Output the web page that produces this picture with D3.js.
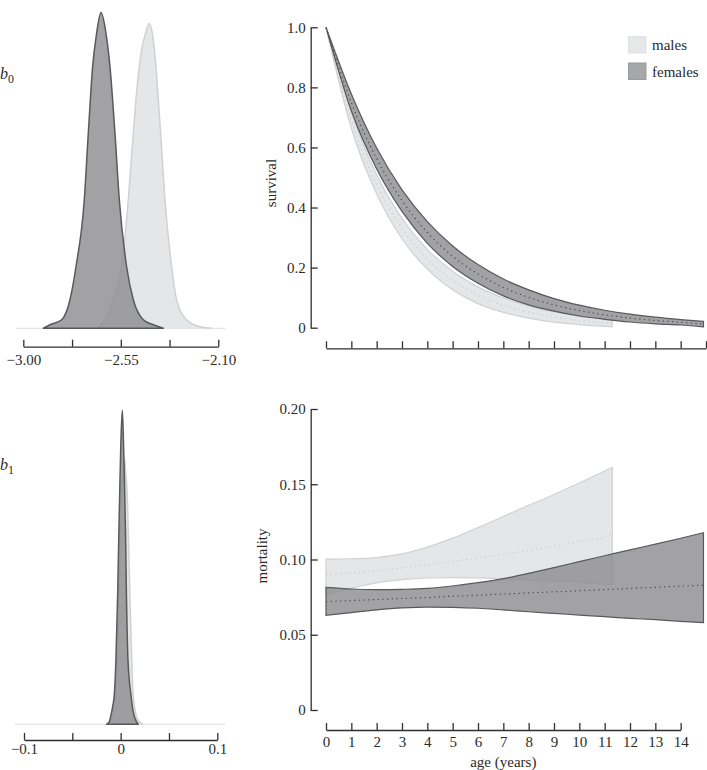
<!DOCTYPE html>
<html><head><meta charset="utf-8">
<script src="https://cdn.jsdelivr.net/npm/d3@7"></script>
<style>
body{margin:0;background:#fff}
svg{display:block}
text{font-family:"Liberation Serif","DejaVu Serif",serif;fill:#2b2b2b}
</style>
</head><body>
<svg id="c" width="707" height="770"></svg>
<script>
// ---------- b0 posterior densities ----------
const b0FemaleX = [-2.9077,-2.8769,-2.8231,-2.7846,-2.7569,-2.7185,-2.7000,-2.6800,-2.6615,-2.6415,-2.6185,-2.6000,-2.5769,-2.5569,-2.5231,-2.4923,-2.4462,-2.4000,-2.3538];
const b0FemaleDensity = [0,0.07,0.17,0.57,1.23,2.57,3.90,5.23,5.90,6.31,5.90,5.23,3.90,2.57,1.23,0.57,0.17,0.07,0];
const b0MaleX = [-2.6615,-2.6231,-2.5846,-2.5462,-2.5154,-2.4923,-2.4800,-2.4646,-2.4538,-2.4354,-2.4200,-2.4046,-2.3877,-2.3769,-2.3662,-2.3462,-2.3154,-2.2923,-2.2462,-2.1846,-2.1308];
const b0MaleDensity = [0,0.17,0.57,1.23,2.57,3.90,4.57,5.23,5.57,5.90,6.09,5.90,5.23,4.57,3.90,2.57,1.23,0.57,0.17,0.03,0];
const b0Ticks = [-3.00,-2.775,-2.55,-2.325,-2.10];
const b0TickLabels = ["−3.00","","−2.55","","−2.10"];

// ---------- b1 posterior densities ----------
const b1FemaleX = [-0.0145,-0.0121,-0.0100,-0.0080,-0.0066,-0.0049,-0.0031,-0.0018,-0.0007,0.0003,0.0017,0.0029,0.0039,0.0050,0.0060,0.0076,0.0107,0.0127,0.0148,0.0182];
const b1FemaleDensity = [0,0.6,2.9,6.1,9.3,20.4,41.1,61.8,77.7,90.4,100,90.4,77.7,61.8,41.1,20.4,9.3,4.5,1.9,0];
const b1MaleX = [-0.0152,-0.0100,-0.0075,-0.0052,-0.0033,-0.0018,-0.0004,0.0010,0.0029,0.0039,0.0050,0.0068,0.0083,0.0096,0.0113,0.0130,0.0153,0.0179,0.0231];
const b1MaleDensity = [0,1.3,3.8,9.2,22.3,41.1,57.3,72.9,81.2,84.7,81.2,72.9,57.3,41.1,22.3,9.2,3.8,1.3,0];
const b1Ticks = [-0.1,-0.05,0,0.05,0.1];
const b1TickLabels = ["−0.1","","0","","0.1"];

// ---------- survival ----------
const survAgeF   = [0,1,2,3,4,5,6,7,8,9,10,11,12,13,14,14.9];
const survMeanF  = [1,0.750,0.563,0.423,0.317,0.238,0.179,0.134,0.101,0.076,0.057,0.043,0.032,0.024,0.018,0.012];
const survUpperF = [1,0.778,0.598,0.459,0.353,0.272,0.210,0.162,0.126,0.097,0.075,0.058,0.045,0.035,0.027,0.021];
const survLowerF = [1,0.722,0.528,0.387,0.281,0.204,0.148,0.106,0.076,0.055,0.039,0.028,0.019,0.013,0.009,0.003];
const survAgeM   = [0,1,2,3,4,5,6,7,8,9,10,11,11.3];
const survMeanM  = [1,0.690,0.477,0.330,0.228,0.157,0.108,0.075,0.052,0.0355,0.0245,0.0165,0.014];
const survUpperM = [1,0.716,0.509,0.364,0.261,0.188,0.136,0.099,0.072,0.0525,0.0385,0.0285,0.025];
const survLowerM = [1,0.664,0.445,0.296,0.195,0.126,0.080,0.051,0.032,0.0185,0.0105,0.0045,0.003];
const survTicks = [0,0.2,0.4,0.6,0.8,1.0];
const survTickLabels = ["0","0.2","0.4","0.6","0.8","1.0"];
const survAgeTicks = [0,1,2,3,4,5,6,7,8,9,10,11,12,13,14,15];

// ---------- mortality ----------
const mortAgeF   = [0,1,2,3,4,5,6,7,8,9,10,11,12,13,14,14.9];
const mortMeanF  = [0.0720,0.0727,0.0734,0.0741,0.0748,0.0756,0.0763,0.0770,0.0778,0.0785,0.0793,0.0800,0.0808,0.0815,0.0823,0.0830];
const mortUpperF = [0.0815,0.0804,0.0800,0.0802,0.0808,0.0824,0.0846,0.0873,0.0908,0.0946,0.0986,0.1025,0.1064,0.1102,0.1141,0.1178];
const mortLowerF = [0.0629,0.0647,0.0665,0.0678,0.0684,0.0682,0.0676,0.0665,0.0653,0.0642,0.0631,0.0620,0.0609,0.0600,0.0589,0.0580];
const mortAgeM   = [0,1,2,3,4,5,6,7,8,9,10,11,11.3];
const mortMeanM  = [0.0897,0.0910,0.0925,0.0945,0.0965,0.0987,0.1010,0.1035,0.1060,0.1090,0.1120,0.1150,0.1170];
const mortUpperM = [0.1003,0.1005,0.1013,0.1037,0.1082,0.1142,0.1212,0.1286,0.1360,0.1432,0.1508,0.1588,0.1612];
const mortLowerM = [0.0765,0.0810,0.0845,0.0866,0.0877,0.0880,0.0878,0.0872,0.0865,0.0857,0.0848,0.0838,0.0835];
const mortTicks = [0,0.05,0.10,0.15,0.20];
const mortTickLabels = ["0","0.05","0.10","0.15","0.20"];
const mortAgeTicks = [0,1,2,3,4,5,6,7,8,9,10,11,12,13,14];

const legendLabels = ["males","females"];

// ---------- styles ----------
const FILL_LIGHT = '#e5e6e7', STROKE_LIGHT = '#d0d1d2';
const FILL_DARK = '#8d8e90', DARK_OPACITY = 0.82, STROKE_DARK = '#58595a';
const AXIS_COLOR = '#2f2f2f';
const FONT = '"Liberation Serif","DejaVu Serif",serif';

const svg = d3.select('#c');

function styleAxis(g){
  g.attr('font-family', FONT).attr('font-size', 15);
  g.selectAll('path,line').attr('stroke', AXIS_COLOR).attr('stroke-width', 1.3);
  g.selectAll('text').attr('fill', '#2b2b2b');
}

// ---------- density panels ----------
function densityPanel(opt){
  const g = svg.append('g');
  const x = d3.scaleLinear().domain(opt.xDomain).range(opt.xRange);
  const y = d3.scaleLinear().domain([0, opt.yMax]).range([opt.base, opt.top]);
  g.append('line').attr('x1', opt.baseLine[0]).attr('x2', opt.baseLine[1])
    .attr('y1', y(0)).attr('y2', y(0)).attr('stroke', '#dcdcdc').attr('stroke-width', 1);
  const mk = (X) => d3.area().x((d,i)=>x(X[i])).y0(y(0)).y1(d=>y(d)).curve(d3.curveMonotoneX);
  const lineMk = (X) => d3.line().x((d,i)=>x(X[i])).y(d=>y(d)).curve(d3.curveMonotoneX);
  g.append('path').attr('d', mk(opt.mX)(opt.mD)).attr('fill', FILL_LIGHT).attr('stroke','none');
  g.append('path').attr('d', lineMk(opt.mX)(opt.mD)).attr('fill','none').attr('stroke', STROKE_LIGHT).attr('stroke-width',1.5);
  g.append('path').attr('d', mk(opt.fX)(opt.fD)).attr('fill', FILL_DARK).attr('fill-opacity', DARK_OPACITY)
    .attr('stroke', STROKE_DARK).attr('stroke-width', 1.5).attr('stroke-linejoin','round');
  const ax = d3.axisBottom(x).tickValues(opt.ticks).tickFormat((d,i)=>opt.tickLabels[i])
    .tickSizeInner(-7).tickSizeOuter(0).tickPadding(opt.pad);
  g.append('g').attr('transform', `translate(0,${opt.axisY})`).call(ax).call(styleAxis);
  const t = svg.append('text').attr('x', 0).attr('y', opt.labelY).attr('font-family', FONT);
  t.append('tspan').text('b').attr('font-style','italic').attr('font-size', 16);
  t.append('tspan').text(opt.sub).attr('font-size', 12).attr('dy', 4);
}

densityPanel({xDomain:[-3,-2.1], xRange:[23.3,218.3], yMax:6.31, base:328.3, top:12.6,
  baseLine:[16,225], mX:b0MaleX, mD:b0MaleDensity, fX:b0FemaleX, fD:b0FemaleDensity,
  ticks:b0Ticks, tickLabels:b0TickLabels, axisY:346.7, pad:8, labelY:79, sub:'0'});

densityPanel({xDomain:[-0.1,0.1], xRange:[24,217.3], yMax:100, base:724.3, top:410.3,
  baseLine:[15,225], mX:b1MaleX, mD:b1MaleDensity, fX:b1FemaleX, fD:b1FemaleDensity,
  ticks:b1Ticks, tickLabels:b1TickLabels, axisY:740, pad:3, labelY:470, sub:'1'});

// ---------- band panels ----------
function bandPanel(opt){
  const g = svg.append('g');
  const x = d3.scaleLinear().domain([0,15]).range([326, 706]);
  const y = d3.scaleLinear().domain(opt.yDomain).range(opt.yRange);
  const area = (A) => d3.area().x((d,i)=>x(A[i])).y0(d=>y(d[0])).y1(d=>y(d[1])).curve(d3.curveMonotoneX);
  const line = (A) => d3.line().x((d,i)=>x(A[i])).y(d=>y(d)).curve(d3.curveMonotoneX);
  const zip = (lo, hi) => lo.map((v,i)=>[v, hi[i]]);
  g.append('path').attr('d', area(opt.mA)(zip(opt.mL, opt.mU)) + 'Z').attr('fill', FILL_LIGHT)
    .attr('stroke', STROKE_LIGHT).attr('stroke-width', 1.2);
  g.append('path').attr('d', line(opt.mA)(opt.mM)).attr('fill','none').attr('stroke','#c9cacb')
    .attr('stroke-width',1.2).attr('stroke-dasharray','1.2,3.5');
  g.append('path').attr('d', area(opt.fA)(zip(opt.fL, opt.fU)) + 'Z').attr('fill', FILL_DARK)
    .attr('fill-opacity', DARK_OPACITY).attr('stroke', STROKE_DARK).attr('stroke-width', 1.2);
  g.append('path').attr('d', line(opt.fA)(opt.fM)).attr('fill','none').attr('stroke','#4a4a4a')
    .attr('stroke-width',1.2).attr('stroke-dasharray','1.2,3.5');
  const ay = d3.axisLeft(y).tickValues(opt.yTicks).tickFormat((d,i)=>opt.yLabels[i])
    .tickSizeInner(-7).tickSizeOuter(0).tickPadding(5);
  g.append('g').attr('transform','translate(310.7,0)').call(ay).call(styleAxis);
  const xa = d3.scaleLinear().domain([0, d3.max(opt.xTicks)]).range([x(0), x(d3.max(opt.xTicks))]);
  const ax = d3.axisBottom(xa).tickValues(opt.xTicks).tickFormat(opt.xLabels ? (d=>String(d)) : (()=>''))
    .tickSizeInner(-7).tickSizeOuter(0).tickPadding(6);
  g.append('g').attr('transform',`translate(0,${opt.xAxisY})`).call(ax).call(styleAxis);
  g.append('text').attr('transform',`translate(${opt.yLabelX},${opt.yLabelY}) rotate(-90)`)
    .attr('text-anchor','middle').attr('dominant-baseline','central').attr('font-size',15).text(opt.yTitle);
}

bandPanel({yDomain:[0,1], yRange:[327.7,27.3],
  mA:survAgeM, mM:survMeanM, mU:survUpperM, mL:survLowerM,
  fA:survAgeF, fM:survMeanF, fU:survUpperF, fL:survLowerF,
  yTicks:survTicks, yLabels:survTickLabels, xTicks:survAgeTicks, xLabels:false, xAxisY:348.3,
  yTitle:'survival', yLabelX:271, yLabelY:183});

bandPanel({yDomain:[0,0.2], yRange:[710,409],
  mA:mortAgeM, mM:mortMeanM, mU:mortUpperM, mL:mortLowerM,
  fA:mortAgeF, fM:mortMeanF, fU:mortUpperF, fL:mortLowerF,
  yTicks:mortTicks, yLabels:mortTickLabels, xTicks:mortAgeTicks, xLabels:true, xAxisY:730,
  yTitle:'mortality', yLabelX:262, yLabelY:556});

svg.append('text').attr('x', 503.3).attr('y', 767).attr('text-anchor','middle')
  .attr('font-size',15).text('age (years)');

// ---------- legend ----------
const leg = svg.append('g');
const legFill = ['#e6e7e8', '#a6a7a9'];
const legStroke = ['#e0e1e2', '#999a9c'];
legendLabels.forEach((lab, i) => {
  leg.append('rect').attr('x', 628.5).attr('y', 36.5 + i*26.5).attr('width', 17.5).attr('height', 16.5)
    .attr('fill', legFill[i]).attr('stroke', legStroke[i]).attr('stroke-width', 1);
  leg.append('text').attr('x', 652).attr('y', 45 + i*26.5).attr('dominant-baseline','central')
    .attr('font-size', 15).text(lab);
});
</script>
</body></html>
